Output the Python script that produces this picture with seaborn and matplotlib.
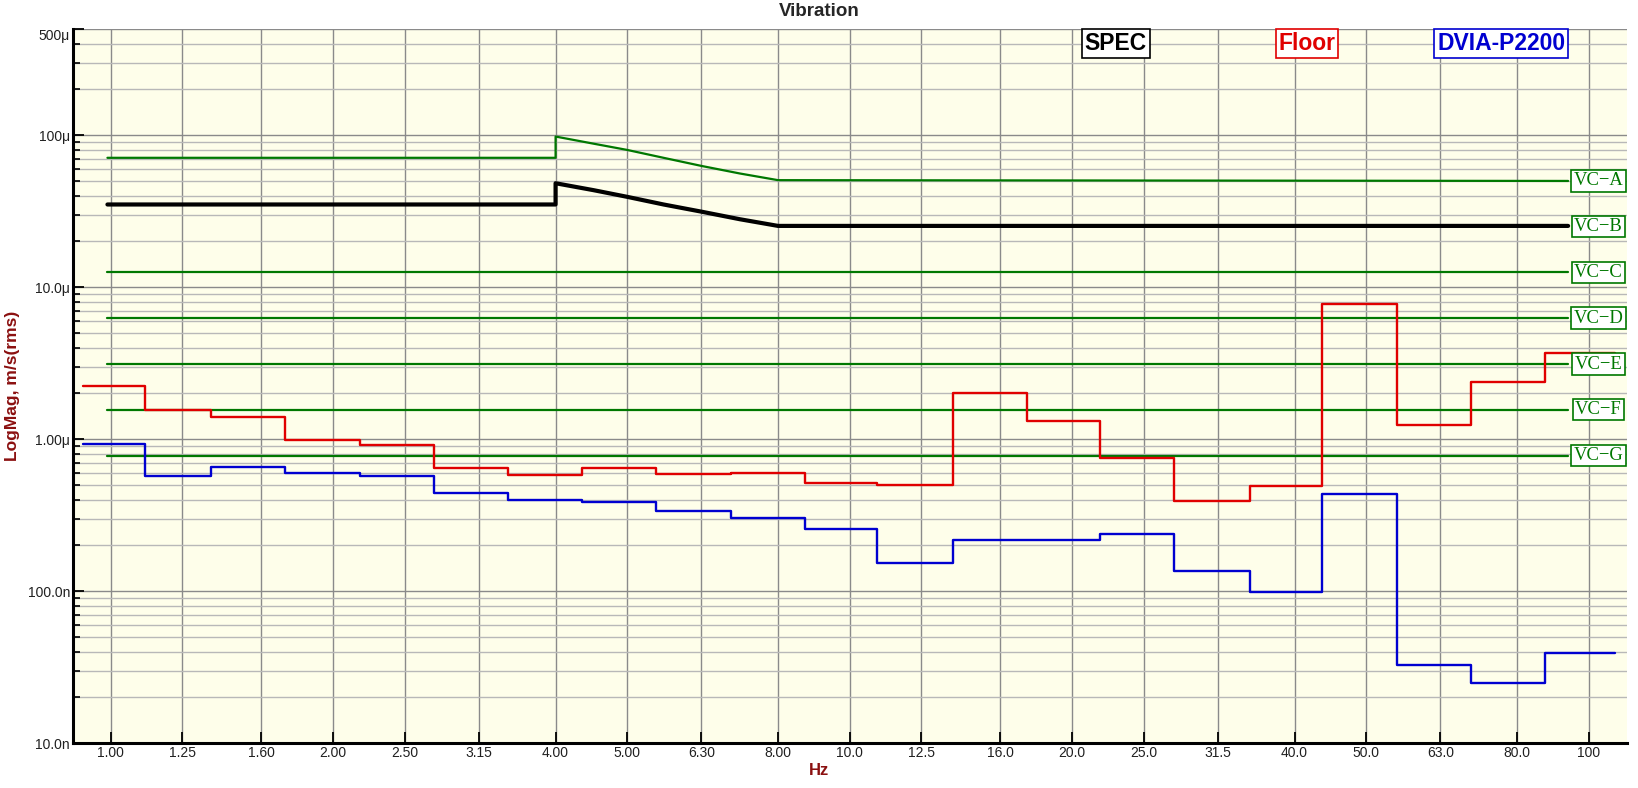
import numpy as np
import pandas as pd
import seaborn as sns
import matplotlib.pyplot as plt
from matplotlib.ticker import LogLocator, NullFormatter

# --- data (velocity in um/s rms) ---
# band edges (Hz) where the 1/3 octave steps change
band_edges = [0.918, 1.113, 1.366, 1.719, 2.173, 2.735, 3.444, 4.338, 5.47, 6.91, 8.69,
              10.9, 13.8, 17.4, 21.8, 27.5, 34.8, 43.6, 55.0, 69.4, 87.4, 108.6]
floor_um = [2.25, 1.55, 1.39, 0.99, 0.92, 0.647, 0.582, 0.641, 0.585, 0.594, 0.516,
            0.50, 2.0, 1.32, 0.746, 0.389, 0.488, 7.8, 1.23, 2.38, 3.71]
dvia_um = [0.93, 0.574, 0.658, 0.60, 0.574, 0.443, 0.399, 0.387, 0.337, 0.303, 0.257,
           0.154, 0.216, 0.216, 0.236, 0.1346, 0.0985, 0.436, 0.0324, 0.0247, 0.0389]

# SPEC (black) and VC-A (green) curves
curve_hz = [0.99, 4.0, 4.0, 4.5, 5.0, 5.6, 6.3, 7.1, 8.0, 93.8]
spec_um = [35.0, 35.0, 48.3, 43.5, 39.3, 35.0, 31.4, 28.0, 25.3, 25.3]
vca_um = [71.0, 71.0, 98.0, 88.0, 80.0, 71.0, 62.8, 56.0, 50.6, 50.0]

# VC criteria lines
vc_names = ['VC\u2212A', 'VC\u2212B', 'VC\u2212C', 'VC\u2212D', 'VC\u2212E', 'VC\u2212F', 'VC\u2212G']
vc_um = [50.0, 25.0, 12.5, 6.25, 3.12, 1.56, 0.78]
vc_hz = [0.99, 93.8]

x_ticks = [1.0, 1.25, 1.6, 2.0, 2.5, 3.15, 4.0, 5.0, 6.3, 8.0, 10.0, 12.5, 16.0, 20.0,
           25.0, 31.5, 40.0, 50.0, 63.0, 80.0, 100.0]
x_labels = ['1.00', '1.25', '1.60', '2.00', '2.50', '3.15', '4.00', '5.00', '6.30', '8.00',
            '10.0', '12.5', '16.0', '20.0', '25.0', '31.5', '40.0', '50.0', '63.0', '80.0', '100']
y_ticks = [1e-8, 1e-7, 1e-6, 1e-5, 1e-4, 5e-4]
y_labels = ['10.0n', '100.0n', '1.00\u03bc', '10.0\u03bc', '100\u03bc', '500\u03bc']

sns.set_theme(style="white")
plt.rcParams['font.family'] = ['Liberation Sans', 'DejaVu Sans']

fig, ax = plt.subplots(figsize=(16.38, 7.88), dpi=100)
fig.subplots_adjust(left=0.0445, right=0.9933, top=0.9632, bottom=0.0571)
ax.set_facecolor('#fefeea')
ax.set_xscale('log')
ax.set_yscale('log')

green = '#007800'
um = 1e-6

# VC lines C..G (A and B drawn as curves)
for v in vc_um[2:]:
    sns.lineplot(x=vc_hz, y=[v * um, v * um], color=green, lw=1.6, ax=ax,
                 estimator=None, sort=False)
sns.lineplot(x=curve_hz, y=np.array(vca_um) * um, color=green, lw=1.6, ax=ax,
             estimator=None, sort=False)
sns.lineplot(x=curve_hz, y=np.array(spec_um) * um, color='black', lw=3, ax=ax,
             estimator=None, sort=False)

floor = pd.DataFrame({'hz': band_edges, 'v': np.array(floor_um + floor_um[-1:]) * um})
dvia = pd.DataFrame({'hz': band_edges, 'v': np.array(dvia_um + dvia_um[-1:]) * um})
sns.lineplot(data=floor, x='hz', y='v', color='#e00000', lw=1.7, drawstyle='steps-post',
             ax=ax, estimator=None, sort=False)
sns.lineplot(data=dvia, x='hz', y='v', color='#0000d0', lw=1.7, drawstyle='steps-post',
             ax=ax, estimator=None, sort=False)

ax.set_xlim(0.889, 112.7)
ax.set_ylim(1e-8, 5e-4)

ax.set_xticks(x_ticks)
ax.set_xticklabels(x_labels)
ax.xaxis.set_minor_locator(plt.NullLocator())
ax.set_yticks(y_ticks)
ax.set_yticklabels(y_labels)
ax.yaxis.set_minor_locator(LogLocator(base=10, subs=np.arange(2, 10)))
ax.yaxis.set_minor_formatter(NullFormatter())
ax.yaxis.get_major_ticks()[-1].label1.set_va('top')

ax.grid(True, which='major', axis='x', color='#8a8a8a', lw=1)
ax.grid(True, which='major', axis='y', color='#8a8a8a', lw=1)
ax.grid(True, which='minor', axis='y', color='#b8b8b8', lw=1)
ax.set_axisbelow(True)

ax.tick_params(axis='both', which='major', direction='in', length=8, width=1.3,
               color='black', labelsize=10, labelcolor='#202020', pad=2,
               left=True, bottom=True)
ax.tick_params(axis='y', which='minor', direction='in', length=5, width=1.2,
               color='black', left=True)
for s in ['top', 'right']:
    ax.spines[s].set_visible(False)
for s in ['left', 'bottom']:
    ax.spines[s].set_color('black')
    ax.spines[s].set_linewidth(2.2)

ax.set_xlabel('Hz', color='#8b1010', fontweight='bold', fontsize=12)
ax.xaxis.set_label_coords(0.48, -0.028)
ax.set_ylabel('LogMag, m/s(rms)', color='#8b1010', fontweight='bold', fontsize=12.5)
ax.yaxis.set_label_coords(-0.034, 0.5)
fig.suptitle('Vibration', x=0.5, y=0.986, va='center', fontweight='bold', fontsize=13.5)

# VC labels at right
for name, v in zip(vc_names, vc_um):
    ax.text(0.9817, v * um, name, transform=ax.get_yaxis_transform(), ha='center',
            va='center', color=green, fontsize=13.4, family=['Liberation Serif'],
            bbox=dict(boxstyle='square,pad=0.12', fc='white', ec=green, lw=1.2), zorder=5)

# legend boxes
for label, col, xf in [('SPEC', 'black', 0.671), ('Floor', '#e00000', 0.794),
                       ('DVIA-P2200', '#0000d0', 0.919)]:
    ax.text(xf, 0.9797, label, transform=ax.transAxes, ha='center', va='center',
            color=col, fontsize=16.5, fontweight='bold',
            bbox=dict(boxstyle='square,pad=0.12', fc='white', ec=col, lw=1.2), zorder=5)

if ax.get_legend() is not None:
    ax.get_legend().remove()

fig.savefig('out.png', dpi=100, facecolor='white')
